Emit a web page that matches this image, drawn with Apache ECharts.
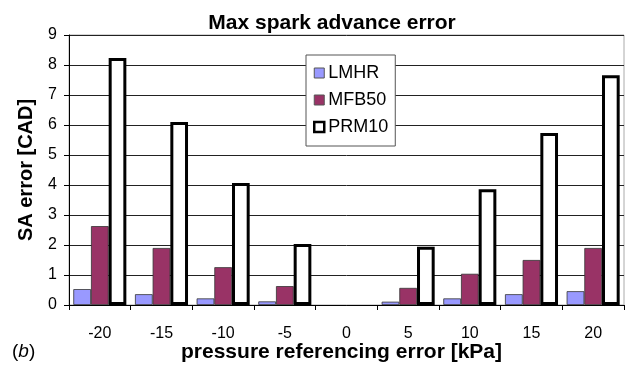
<!DOCTYPE html>
<html>
<head>
<meta charset="utf-8">
<script src="https://cdn.jsdelivr.net/npm/echarts@6/dist/echarts.min.js"></script>
<style>
  html, body { margin: 0; padding: 0; background: #fff; }
  #chart { width: 631px; height: 365px; }
</style>
</head>
<body>
<div id="chart"></div>
<script>
// Pressure referencing error [kPa]
const categories = ['-20', '-15', '-10', '-5', '0', '5', '10', '15', '20'];
// Max spark advance error [CAD] per method
const lmhr  = [0.53, 0.36, 0.22, 0.12, 0, 0.11, 0.22, 0.36, 0.46];
const mfb50 = [2.63, 1.90, 1.26, 0.63, 0, 0.57, 1.04, 1.50, 1.90];
const prm10 = [8.23, 6.10, 4.07, 2.03, 0, 1.94, 3.86, 5.73, 7.66];
const yTicks = [0, 1, 2, 3, 4, 5, 6, 7, 8, 9];

const font = '"Liberation Sans", Arial, sans-serif';
const chart = echarts.init(document.getElementById('chart'));

// Zero-height bars get no outline, so nothing is drawn for them.
function barData(values, border) {
  return values.map(v => ({ value: v, itemStyle: { borderWidth: v === 0 ? 0 : border } }));
}

chart.setOption({
  animation: false,
  backgroundColor: '#fff',
  title: {
    text: 'Max spark advance error',
    left: 327, top: 8, textAlign: 'center',
    textStyle: { fontFamily: font, fontSize: 21, fontWeight: 'bold', color: '#000' }
  },
  grid: {
    left: 69, right: 7, top: 35, bottom: 60,
    outerBoundsMode: 'none',
    containLabel: false,
    show: true, borderColor: '#aaa', borderWidth: 1, backgroundColor: 'transparent'
  },
  legend: {
    orient: 'vertical',
    left: 306, top: 55,
    padding: [9, 7, 10, 7],
    itemGap: 9,
    itemWidth: 10, itemHeight: 10,
    icon: 'rect',
    backgroundColor: '#fff',
    borderColor: '#555', borderWidth: 1,
    textStyle: { fontFamily: font, fontSize: 18, color: '#000', padding: [0, 0, 0, -1] },
    data: [
      { name: 'LMHR', icon: 'rect', itemStyle: { color: '#9999ff', borderColor: '#555', borderWidth: 1 } },
      { name: 'MFB50', icon: 'rect', itemStyle: { color: '#993366', borderColor: '#555', borderWidth: 1 } },
      { name: 'PRM10', icon: 'rect', itemStyle: { color: '#fff', borderColor: '#000', borderWidth: 2.5 } }
    ]
  },
  xAxis: {
    type: 'category',
    data: categories,
    name: 'pressure referencing error [kPa]',
    nameLocation: 'middle',
    nameGap: 37,
    nameMoveOverlap: false,
    nameTextStyle: { fontFamily: font, fontSize: 21, fontWeight: 'bold', color: '#000', padding: [0, 10, 0, 0] },
    axisLine: { lineStyle: { color: '#000', width: 1 } },
    axisTick: { show: true, length: 5, lineStyle: { color: '#000' } },
    axisLabel: { fontFamily: font, fontSize: 16, color: '#000', margin: 21 }
  },
  yAxis: {
    type: 'value',
    min: yTicks[0], max: yTicks[yTicks.length - 1], interval: 1,
    name: 'SA error [CAD]',
    nameLocation: 'middle',
    nameGap: 33,
    nameMoveOverlap: false,
    nameRotate: 90,
    nameTextStyle: { fontFamily: font, fontSize: 20, fontWeight: 'bold', color: '#000' },
    axisLine: { show: true, lineStyle: { color: '#000', width: 1 } },
    axisTick: { show: true, length: 5, lineStyle: { color: '#000' } },
    axisLabel: { fontFamily: font, fontSize: 16, color: '#000', margin: 12 },
    splitLine: { show: true, lineStyle: { color: '#222', width: 1 } }
  },
  series: [
    {
      name: 'LMHR', type: 'bar', data: barData(lmhr, 0.8),
      barGap: '0%', barCategoryGap: '14%',
      itemStyle: { color: '#9999ff', borderColor: '#333', borderWidth: 0.8 }
    },
    {
      name: 'MFB50', type: 'bar', data: barData(mfb50, 0.8),
      barGap: '0%', barCategoryGap: '14%',
      itemStyle: { color: '#993366', borderColor: '#333', borderWidth: 0.8 }
    },
    {
      name: 'PRM10', type: 'bar', data: barData(prm10, 3),
      barGap: '0%', barCategoryGap: '14%',
      itemStyle: { color: '#fff', borderColor: '#000', borderWidth: 3 }
    }
  ],
  graphic: [
    {
      type: 'text',
      left: 12, top: 342,
      style: {
        text: '({b|b})',
        font: '19px ' + font,
        fill: '#000',
        rich: { b: { fontStyle: 'italic', fontSize: 19, fontFamily: font } }
      }
    }
  ]
});
</script>
</body>
</html>
